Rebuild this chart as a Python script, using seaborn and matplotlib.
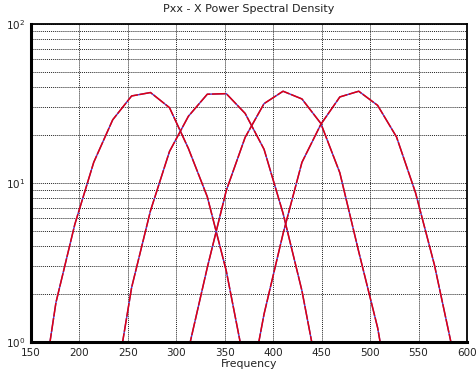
import numpy as np
import pandas as pd
import matplotlib
matplotlib.use("Agg")
import matplotlib.pyplot as plt
import seaborn as sb
from matplotlib.ticker import LogLocator, FixedLocator

# frequency bins (Hz) for each band and the PSD values
freq1 = [156.3, 175.8, 195.3, 214.8, 234.4, 253.9, 273.4, 293.0, 312.5, 332.0, 351.6, 371.1]
pxx1 = [0.29, 1.77, 5.5, 13.5, 25.0, 35.3, 37.1, 29.8, 16.5, 8.2, 2.8, 0.69]

freq2 = [234.4, 253.9, 273.4, 293.0, 312.5, 332.0, 351.6, 371.1, 390.6, 410.2, 429.7, 449.2]
pxx2 = [0.42, 2.2, 6.7, 15.8, 26.3, 36.2, 36.5, 27.4, 16.3, 6.45, 2.1, 0.5]

freq3 = [312.5, 332.0, 351.6, 371.1, 390.6, 410.2, 429.7, 449.2, 468.8, 488.3, 507.8, 527.3]
pxx3 = [0.89, 2.94, 8.97, 19.4, 31.6, 37.8, 33.8, 23.7, 11.6, 3.7, 1.23, 0.26]

freq4 = [371.1, 390.6, 410.2, 429.7, 449.2, 468.8, 488.3, 507.8, 527.3, 546.9, 566.4, 585.9]
pxx4 = [0.35, 1.5, 4.8, 13.5, 23.4, 34.8, 37.8, 30.8, 19.5, 8.7, 3.06, 0.85]

xticks = [150, 200, 250, 300, 350, 400, 450, 500, 550, 600]


def main():
    sb.set_style("white")
    plt.rcParams['font.family'] = ['DejaVu Sans']
    plt.rcParams['mathtext.default'] = 'regular'

    fig = plt.figure(figsize=(4.76, 3.76), dpi=100)
    ax = fig.add_axes([0.065, 0.0904, 0.916, 0.8456])

    # blue trace underneath, red trace on top
    for f, p in [(freq1, pxx1), (freq2, pxx2), (freq3, pxx3), (freq4, pxx4)]:
        df = pd.DataFrame({'Frequency': f, 'Pxx': p})
        sb.lineplot(data=df, x='Frequency', y='Pxx', color='#4040e0',
                    linewidth=1.0, ax=ax)
        sb.lineplot(data=df, x='Frequency', y='Pxx', color='#e00010',
                    linewidth=1.1, ax=ax)
        ax.lines[-1].set_dashes([9, 1])

    ax.set_yscale('log')
    ax.set_xlim(150, 600)
    ax.set_ylim(1, 100)
    ax.xaxis.set_major_locator(FixedLocator(xticks))
    ax.yaxis.set_major_locator(LogLocator(base=10))
    ax.yaxis.set_minor_locator(LogLocator(base=10, subs=np.arange(2, 10)))
    ax.yaxis.set_minor_formatter(plt.NullFormatter())

    # dotted grid
    ax.grid(True, which='major', axis='both', color='#222222', linestyle=(0, (1, 1)), linewidth=0.7)
    ax.grid(True, which='minor', axis='y', color='#222222', linestyle=(0, (1, 1)), linewidth=0.7)

    ax.tick_params(axis='both', which='both', length=0, labelsize=7.5, colors='#222222')
    ax.tick_params(axis='x', pad=4)
    ax.tick_params(axis='y', pad=4)

    for side in ['top', 'right']:
        ax.spines[side].set_linewidth(1.3)
        ax.spines[side].set_color('black')
    for side in ['left', 'bottom']:
        ax.spines[side].set_linewidth(2.2)
        ax.spines[side].set_color('black')

    ax.set_xlabel('Frequency', fontsize=7.8, labelpad=1, color='#222222')
    ax.set_ylabel('')
    ax.set_title('Pxx - X Power Spectral Density', fontsize=8, pad=9, color='#222222')

    fig.savefig('out.png', dpi=100)


if __name__ == "__main__":
    main()
